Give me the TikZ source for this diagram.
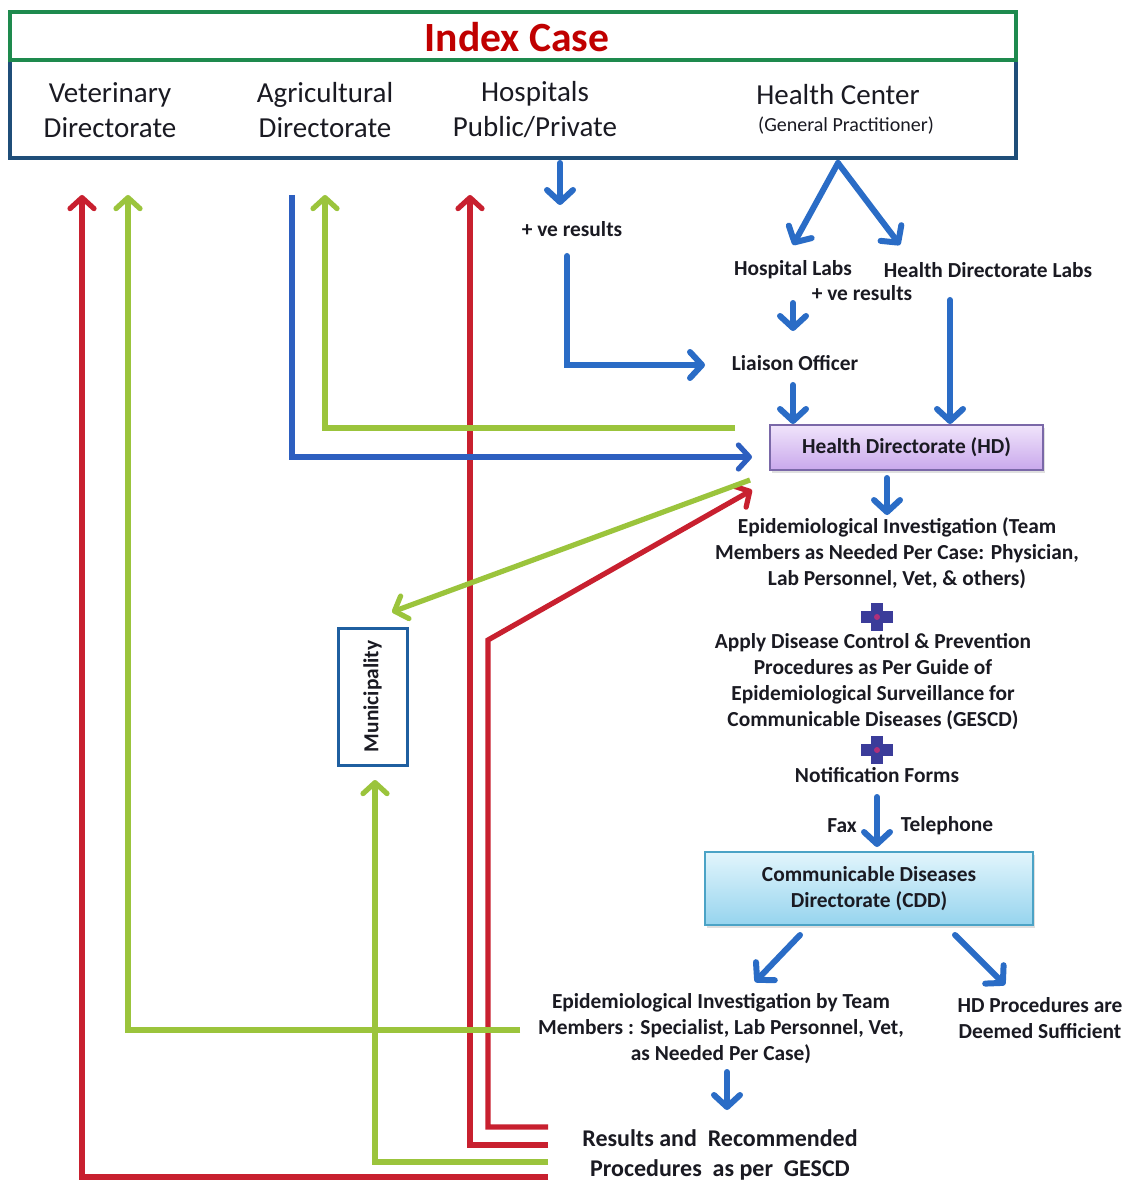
\documentclass[tikz,border=0pt]{standalone}
\usepackage{fontspec}
\setmainfont{Carlito}
\usetikzlibrary{arrows.meta,shadows}
\definecolor{cred}{HTML}{C8202F}
\definecolor{cgreen}{HTML}{9BC43C}
\definecolor{cblue}{HTML}{2A6CC6}
\definecolor{cline}{HTML}{2D5FC0}
\definecolor{cgbox}{HTML}{1E8A4E}
\definecolor{cnavy}{HTML}{1F4E79}
\definecolor{cindex}{HTML}{C00000}
\definecolor{txt}{HTML}{1A1A22}
\definecolor{cplus}{HTML}{3B3C9A}
\definecolor{cplusc}{HTML}{B0307A}
\definecolor{hdtop}{HTML}{F0E4FB}
\definecolor{hdbot}{HTML}{C9A8EC}
\definecolor{hdline}{HTML}{7A68A8}
\definecolor{cddtop}{HTML}{E2F5FC}
\definecolor{cddbot}{HTML}{96D4EE}
\definecolor{cddline}{HTML}{4BA3C6}
\definecolor{cmuni}{HTML}{1F5FA0}
\begin{document}
\begin{tikzpicture}[x=0.5pt,y=-0.5pt,
  toplab/.style={font=\fontsize{14.5}{17.5}\selectfont, align=center, inner sep=0pt, text=txt},
  lab/.style={font=\bfseries\fontsize{10.7}{13}\selectfont, align=center, inner sep=0pt, text=txt},
  reslab/.style={font=\bfseries\fontsize{12}{15}\selectfont, align=center, inner sep=0pt, text=txt},
  bluearr/.style={draw=cblue, line width=3pt, line cap=round,
     -{Straight Barb[length=6pt,width=13pt,line width=3pt,round]}},
  flow/.style={line width=2.6pt},
  redflow/.style={flow, draw=cred},
  greenflow/.style={flow, draw=cgreen},
  blueflow/.style={flow, draw=cline},
  tip/.style={-{Straight Barb[length=5.5pt,width=12pt,line width=2.6pt,round]}},
  hdbox/.style={lab, draw=hdline, line width=1pt, top color=hdtop, bottom color=hdbot,
     minimum width=136.5pt, minimum height=22.5pt, drop shadow={opacity=0.25,shadow xshift=1pt,shadow yshift=-1.5pt}},
  cddbox/.style={lab, draw=cddline, line width=1pt, top color=cddtop, bottom color=cddbot,
     minimum width=164pt, minimum height=36.5pt, drop shadow={opacity=0.25,shadow xshift=1pt,shadow yshift=-1.5pt}},
  munibox/.style={draw=cmuni, line width=1.5pt, minimum width=34.5pt, minimum height=68.5pt, inner sep=0pt},
  pluss/.style={inner sep=0pt, minimum size=14pt}
]
\useasboundingbox (0,0) rectangle (1132,1181);
\fill[white] (0,0) rectangle (1132,1181);

% ---------- top boxes ----------
\node[draw=cnavy, line width=2pt, minimum width=503pt, minimum height=49pt, inner sep=0pt] (botbox) at (513,109) {};
\node[draw=cgbox, line width=2pt, fill=white, minimum width=503pt, minimum height=24pt, inner sep=0pt] (topbox) at (513,36) {};
\node[font=\bfseries\fontsize{20.8}{24}\selectfont, text=cindex, inner sep=0pt] (idx) at (517,37) {Index Case};
\node[toplab] (vet) at (110,110) {Veterinary\\Directorate};
\node[toplab] (agr) at (325,110) {Agricultural\\Directorate};
\node[toplab] (hosp) at (535,110) {Hospitals\\Public/Private};
\node[toplab] (hc) at (838,95) {Health Center};
\node[font=\fontsize{10}{12}\selectfont, inner sep=0pt, text=txt] (gp) at (846,126) {(General Practitioner)};

% ---------- right column ----------
\node[lab] (pve1) at (572,229) {+ ve results};
\node[lab] (hlabs) at (793,270) {Hospital Labs};
\node[lab] (hdlabs) at (988,270) {Health Directorate Labs};
\node[lab] (pve2) at (862,293) {+ ve results};
\node[lab] (liaison) at (795,363) {Liaison Officer};
\node[hdbox] (hd) at (906.5,447.5) {Health Directorate (HD)};
\node[lab] (epi1) at (897,553) {Epidemiological Investigation (Team\\Members as Needed Per Case: Physician,\\Lab Personnel, Vet, \& others)};
\node[pluss] (plus1) at (877,617) {};
\node[lab] (apply) at (873,682) {Apply Disease Control \& Prevention\\Procedures as Per Guide of\\Epidemiological Surveillance for\\Communicable Diseases (GESCD)};
\node[pluss] (plus2) at (877,750) {};
\node[lab] (notif) at (877,775) {Notification Forms};
\node[lab] (fax) at (842,826) {Fax};
\node[lab] (tel) at (947,826) {Telephone};
\node[cddbox] (cdd) at (869,888.5) {Communicable Diseases\\Directorate (CDD)};
\node[lab] (epi2) at (721,1029) {Epidemiological Investigation by Team\\Members : Specialist, Lab Personnel, Vet,\\as Needed Per Case)};
\node[lab] (hdproc) at (1040,1018) {HD Procedures are\\Deemed Sufficient};
\node[reslab] (res) at (720,1155) {Results and~~Recommended\\Procedures~~as per~~GESCD};
\node[munibox] (muni) at (372.5,696.5) {};
\node[lab, rotate=90] (munitext) at (muni.center) {Municipality};

% plus signs
\foreach \p in {plus1,plus2}{
  \fill[cplus] ([xshift=-3.2pt,yshift=-7pt]\p.center) rectangle ([xshift=3.2pt,yshift=7pt]\p.center);
  \fill[cplus] ([xshift=-8pt,yshift=-3pt]\p.center) rectangle ([xshift=8pt,yshift=3pt]\p.center);
  \fill[cplusc] (\p.center) circle (1.5pt);
}

% ---------- blue arrows (right column) ----------
\coordinate (hospout) at (560,163);
\coordinate (pve1in) at (560,205);
\coordinate (hcout) at (838,163);
\coordinate (hlabsin) at (793,245);
\coordinate (hdlabsin) at (900,245);
\coordinate (pve1out) at (567,256);
\coordinate (liaisonin) at (705,365);
\coordinate (notifout) at (877,797);
\coordinate (cddin) at (877,847);
\draw[bluearr] (hospout) -- (pve1in);
\draw[bluearr] (hcout) -- (hlabsin);
\draw[bluearr] (hcout) -- (hdlabsin);
\draw[bluearr] (pve1out) |- (liaisonin);
\draw[bluearr] (hlabs.south |- pve2.north) ++(0,18) -- ([yshift=12pt]liaison.north -| hlabs.south);
\draw[bluearr] (950,300) -- (hd.north -| 950,0);
\draw[bluearr] (793,385) -- (hd.north -| 793,0);
\draw[bluearr] (887,478) -- ([yshift=1pt]epi1.north -| 887,0);
\draw[bluearr] (notifout) -- (cddin);
\draw[bluearr] (800,935) -- (755,982);
\draw[bluearr] (955,935) -- (1005,985);
\draw[bluearr] (727,1072) -- (727,1110);

% ---------- left flow lines ----------
\coordinate (r1a) at (548,1177);
\coordinate (r1b) at (82,195);
\coordinate (g1a) at (520,1030);
\coordinate (g1b) at (128,195);
\coordinate (b1a) at (292,195);
\coordinate (b1b) at (752,457);
\coordinate (g2a) at (735,428);
\coordinate (g2b) at (325,195);
\coordinate (r2a) at (548,1145);
\coordinate (r2b) at (470,195);
\coordinate (r3a) at (548,1127);
\coordinate (r3b) at (488,640);
\coordinate (r3c) at (752,490);
\coordinate (gda) at (750,480);
\coordinate (gdb) at (392,612);
\coordinate (g3a) at (548,1162);
\coordinate (g3b) at (375,780);

\draw[redflow, tip] (r1a) -| (r1b);
\draw[redflow, tip] (r2a) -| (r2b);
\draw[redflow, tip] (r3a) -| (r3b) -- (r3c);
\draw[blueflow, tip] (b1a) |- (b1b);
\draw[greenflow, tip] (g2a) -| (g2b);
\draw[greenflow, tip] (gda) -- (gdb);
\draw[greenflow, tip] (g1a) -| (g1b);
\draw[greenflow, tip] (g3a) -| (g3b);
\end{tikzpicture}
\end{document}
